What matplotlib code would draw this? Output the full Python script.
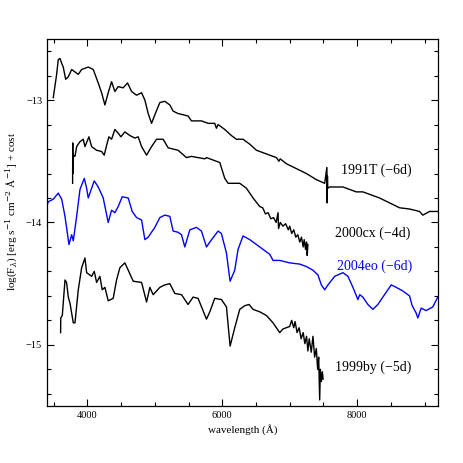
import numpy as np
import matplotlib
matplotlib.use("Agg")
from matplotlib import pyplot as plt
from matplotlib.ticker import MultipleLocator

plt.rcParams['font.family'] = ['Liberation Serif', 'DejaVu Serif']
plt.rcParams['mathtext.fontset'] = 'dejavuserif'

# 1991T (-6d)
wl_91T = [3493, 3543, 3567, 3593, 3618, 3641, 3677, 3716, 3766, 3815, 3864, 3914, 4012, 4086,
          4160, 4210, 4259, 4308, 4358, 4407, 4456, 4530, 4595, 4655, 4729, 4803, 4852, 4901,
          4951, 5000, 5074, 5148, 5222, 5271, 5345, 5493, 5543, 5691, 5790, 5888, 5913, 5938,
          6037, 6136, 6210, 6308, 6407, 6507, 6655, 6803, 6841, 6860, 6951, 7099, 7247, 7396,
          7519, 7552, 7556, 7560, 7564, 7593, 7790, 7988, 8086, 8185, 8333, 8482, 8630, 8778,
          8926, 8975, 9074, 9197]
fl_91T = [-12.98, -12.79, -12.67, -12.66, -12.70, -12.73, -12.83, -12.81, -12.75, -12.77, -12.79,
          -12.75, -12.73, -12.75, -12.86, -12.94, -13.04, -12.94, -12.85, -12.93, -12.89, -12.90,
          -12.86, -12.93, -12.96, -12.94, -13.00, -13.11, -13.19, -13.12, -13.02, -13.01, -13.04,
          -13.09, -13.11, -13.13, -13.17, -13.17, -13.19, -13.19, -13.23, -13.20, -13.24, -13.29,
          -13.32, -13.32, -13.36, -13.41, -13.44, -13.47, -13.50, -13.48, -13.52, -13.56, -13.60,
          -13.65, -13.68, -13.55, -13.84, -13.62, -13.72, -13.71, -13.71, -13.75, -13.75, -13.77,
          -13.80, -13.84, -13.88, -13.89, -13.91, -13.94, -13.91, -13.91]

# 2000cx (-4d)
wl_00cx = [3780, 3782, 3784, 3790, 3815, 3840, 3889, 3938, 3963, 4022, 4062, 4136, 4210, 4249,
           4284, 4318, 4358, 4407, 4456, 4496, 4555, 4630, 4704, 4753, 4803, 4877, 4951, 5025,
           5123, 5197, 5271, 5345, 5469, 5543, 5741, 5766, 5963, 6037, 6086, 6259, 6358, 6457,
           6556, 6600, 6640, 6680, 6720, 6760, 6800, 6827, 6835, 6860, 6900, 6940, 6980, 7000,
           7030, 7060, 7090, 7120, 7150, 7175, 7200, 7215, 7235, 7250, 7260, 7270]
fl_00cx = [-13.68, -13.35, -13.60, -13.45, -13.46, -13.38, -13.34, -13.32, -13.38, -13.30, -13.38,
           -13.41, -13.42, -13.45, -13.37, -13.30, -13.32, -13.24, -13.27, -13.30, -13.26, -13.29,
           -13.31, -13.30, -13.38, -13.45, -13.38, -13.32, -13.32, -13.39, -13.40, -13.41, -13.47,
           -13.46, -13.48, -13.47, -13.51, -13.64, -13.68, -13.68, -13.72, -13.80, -13.87, -13.88,
           -13.93, -13.92, -13.97, -13.96, -14.00, -13.92, -14.05, -14.00, -14.03, -14.01, -14.06,
           -14.03, -14.09, -14.06, -14.12, -14.10, -14.16, -14.12, -14.20, -14.14, -14.22, -14.16,
           -14.27, -14.18]

# 2004eo (-6d)
wl_04eo = [3400, 3420, 3493, 3567, 3618, 3667, 3726, 3766, 3790, 3840, 3889, 3953, 3988, 4012,
           4062, 4101, 4160, 4234, 4308, 4358, 4407, 4456, 4516, 4605, 4664, 4729, 4803, 4852,
           4901, 5000, 5074, 5148, 5222, 5271, 5345, 5395, 5444, 5519, 5617, 5691, 5766, 5815,
           5938, 5987, 6062, 6116, 6185, 6234, 6308, 6407, 6507, 6605, 6704, 6753, 6852, 6999,
           7148, 7247, 7346, 7420, 7470, 7519, 7568, 7667, 7790, 7864, 7938, 8012, 8040, 8086,
           8160, 8234, 8308, 8407, 8506, 8580, 8679, 8778, 8817, 8876, 8901, 8950, 9024, 9123,
           9197]
fl_04eo = [-13.86, -13.83, -13.81, -13.76, -13.81, -13.95, -14.18, -14.10, -14.15, -13.95, -13.73,
           -13.64, -13.72, -13.80, -13.72, -13.66, -13.71, -13.80, -14.00, -13.90, -13.92, -13.87,
           -13.79, -13.80, -13.91, -13.96, -13.98, -14.14, -14.12, -14.04, -13.96, -13.94, -13.95,
           -14.07, -14.08, -14.10, -14.20, -14.06, -14.04, -14.07, -14.20, -14.16, -14.07, -14.09,
           -14.25, -14.48, -14.39, -14.22, -14.11, -14.14, -14.18, -14.22, -14.26, -14.31, -14.31,
           -14.33, -14.34, -14.36, -14.39, -14.43, -14.51, -14.55, -14.51, -14.44, -14.41, -14.44,
           -14.53, -14.63, -14.59, -14.61, -14.67, -14.71, -14.67, -14.59, -14.51, -14.53, -14.56,
           -14.60, -14.68, -14.74, -14.78, -14.70, -14.72, -14.69, -14.61]

# 1999by (-5d)
wl_99by = [3602, 3604, 3627, 3667, 3690, 3716, 3741, 3790, 3815, 3864, 3914, 3963, 3988, 4062,
           4101, 4136, 4185, 4219, 4259, 4308, 4382, 4432, 4481, 4555, 4605, 4679, 4803, 4877,
           4926, 4975, 5074, 5148, 5222, 5296, 5395, 5493, 5567, 5641, 5766, 5815, 5888, 5988,
           6062, 6116, 6185, 6259, 6333, 6397, 6457, 6556, 6655, 6753, 6852, 6901, 6999, 7030,
           7060, 7080, 7110, 7140, 7170, 7200, 7225, 7250, 7270, 7290, 7320, 7345, 7370, 7395,
           7415, 7430, 7445, 7455, 7470, 7485, 7495]
fl_99by = [-14.90, -14.78, -14.76, -14.47, -14.49, -14.61, -14.66, -14.82, -14.82, -14.55, -14.37,
           -14.29, -14.41, -14.44, -14.40, -14.49, -14.44, -14.55, -14.53, -14.64, -14.62, -14.47,
           -14.37, -14.33, -14.39, -14.48, -14.49, -14.65, -14.53, -14.59, -14.53, -14.51, -14.50,
           -14.58, -14.59, -14.67, -14.61, -14.62, -14.79, -14.73, -14.62, -14.63, -14.69, -15.01,
           -14.86, -14.71, -14.68, -14.67, -14.71, -14.73, -14.76, -14.82, -14.90, -14.87, -14.85,
           -14.80, -14.86, -14.81, -14.90, -14.86, -14.95, -14.90, -14.99, -14.93, -15.05, -14.95,
           -15.06, -14.93, -15.10, -15.03, -15.20, -15.10, -15.45, -15.20, -15.30, -15.22, -15.28]

labels = ['1991T (\u22126d)', '2000cx (\u22124d)', '2004eo (\u22126d)', '1999by (\u22125d)']
label_x = [7766, 7667, 7701, 7667]
label_y = [-13.57, -14.09, -14.36, -15.18]
colors = ['black', 'black', 'blue', 'black']

fig = plt.figure(figsize=(4.63, 4.63), dpi=100)
ax = fig.add_axes([0.1015, 0.123, 0.8445, 0.793])

series = [(wl_91T, fl_91T), (wl_00cx, fl_00cx), (wl_04eo, fl_04eo), (wl_99by, fl_99by)]
for (w, f), c in zip(series, colors):
    ax.plot(w, f, color=c, lw=1.0)

for t, x, y, c in zip(labels, label_x, label_y, colors):
    ax.text(x, y, t, color=c, fontsize=10, va='center', ha='left')

ax.set_xlim(3400, 9200)
ax.set_ylim(-15.5, -12.5)
ax.xaxis.set_major_locator(MultipleLocator(2000))
ax.xaxis.set_minor_locator(MultipleLocator(500))
ax.yaxis.set_major_locator(MultipleLocator(1))
ax.yaxis.set_minor_locator(MultipleLocator(0.2))
ax.tick_params(which='both', direction='in', top=True, right=True, labelsize=7.5, width=0.8)
ax.tick_params(which='major', length=5)
ax.tick_params(which='minor', length=3)
for s in ax.spines.values():
    s.set_linewidth(0.9)

ax.set_xlabel('wavelength (\u00c5)', fontsize=8, labelpad=3)
ax.set_ylabel('log(F$_\\lambda$) [erg s$^{-1}$ cm$^{-2}$ \u00c5$^{-1}$] + cost', fontsize=8)
ax.yaxis.set_label_coords(-0.07, 0.53)

fig.savefig('out.png', dpi=100)
